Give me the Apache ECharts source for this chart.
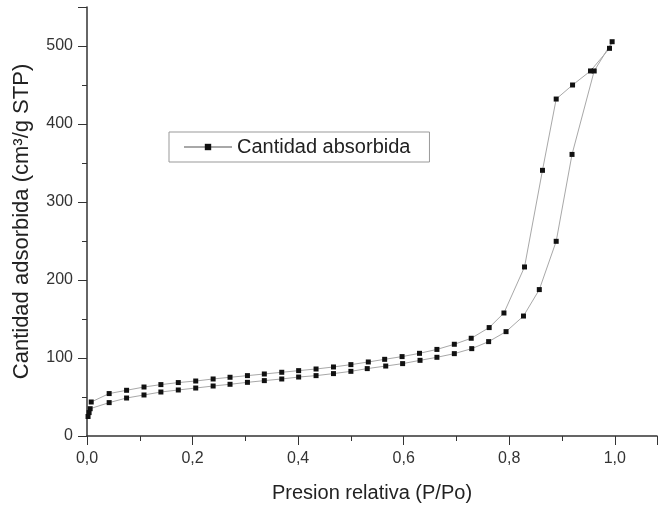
<!DOCTYPE html>
<html>
<head>
<meta charset="utf-8">
<script src="https://cdn.jsdelivr.net/npm/echarts@6/dist/echarts.min.js"></script>
<style>
  html, body { margin: 0; padding: 0; background: #fff; }
  #chart { width: 660px; height: 508px; }
</style>
</head>
<body>
<div id="chart"></div>
<script>
// Adsorption branch (increasing pressure)
const pressureAds = [0.002, 0.004, 0.006, 0.042, 0.075, 0.108, 0.140, 0.173, 0.206, 0.239, 0.271, 0.304, 0.336, 0.369, 0.401, 0.434, 0.467, 0.500, 0.531, 0.566, 0.598, 0.631, 0.663, 0.696, 0.729, 0.761, 0.794, 0.827, 0.857, 0.889, 0.919, 0.961, 0.995];
const volumeAds = [25, 30, 35, 42.8, 48.7, 52.6, 56.4, 59, 61.5, 64.1, 66.3, 68.8, 71, 73.1, 75.6, 77.4, 80, 82.9, 86.4, 89.7, 92.8, 97, 100.9, 105.6, 112, 121, 133.8, 153.8, 187.7, 249.6, 361, 468, 505.5];

// Desorption branch (decreasing pressure)
const pressureDes = [0.990, 0.954, 0.920, 0.889, 0.863, 0.829, 0.790, 0.762, 0.728, 0.696, 0.663, 0.630, 0.597, 0.564, 0.533, 0.500, 0.467, 0.434, 0.401, 0.369, 0.336, 0.304, 0.271, 0.239, 0.206, 0.173, 0.140, 0.108, 0.075, 0.042, 0.008];
const volumeDes = [497, 468, 450, 432, 340.6, 216.7, 157.7, 139, 125.3, 117.6, 111, 106, 101.8, 98.3, 94.9, 91.5, 88.5, 85.9, 83.8, 81.7, 79.5, 77.4, 75.3, 73.1, 70.5, 68.5, 65.9, 62.8, 58.6, 54.4, 43.6];

const xTicks = [0, 0.2, 0.4, 0.6, 0.8, 1.0];
const yTicks = [0, 100, 200, 300, 400, 500];

const seriesName = 'Cantidad absorbida';
const xName = 'Presion relativa (P/Po)';
const yName = 'Cantidad adsorbida (cm³/g STP)';

const points = [];
pressureAds.forEach((p, i) => points.push([p, volumeAds[i]]));
pressureDes.forEach((p, i) => points.push([p, volumeDes[i]]));

const font = 'Liberation Sans, Arial, sans-serif';

const chart = echarts.init(document.getElementById('chart'), null, { renderer: 'canvas' });

chart.setOption({
  animation: false,
  backgroundColor: '#fff',
  grid: { left: 87, right: 3, top: 7, bottom: 72, containLabel: false },
  legend: {
    left: 169,
    top: 132,
    padding: [5, 19, 5, 14],
    borderColor: '#999',
    borderWidth: 1,
    itemWidth: 48,
    itemHeight: 8,
    textStyle: { fontFamily: font, fontSize: 20, color: '#222' },
    data: [seriesName]
  },
  xAxis: {
    type: 'value',
    min: 0,
    max: 1.08,
    interval: 0.2,
    name: xName,
    nameLocation: 'middle',
    nameGap: 47,
    nameTextStyle: { fontFamily: font, fontSize: 20, color: '#222' },
    axisLine: { show: true, lineStyle: { color: '#333', width: 1.5 } },
    axisTick: { show: true, inside: false, length: 9, lineStyle: { color: '#333' } },
    minorTick: { show: true, splitNumber: 2, length: 5, lineStyle: { color: '#333' } },
    splitLine: { show: false },
    axisLabel: {
      showMaxLabel: false,
      fontFamily: font,
      fontSize: 16,
      color: '#333',
      margin: 15,
      formatter: v => xTicks.some(t => Math.abs(t - v) < 1e-6) ? v.toFixed(1).replace('.', ',') : ''
    }
  },
  yAxis: {
    type: 'value',
    min: 0,
    max: 550,
    interval: 100,
    name: yName,
    nameLocation: 'middle',
    nameGap: 54,
    nameTextStyle: { fontFamily: font, fontSize: 22, color: '#222' },
    axisLine: { show: true, lineStyle: { color: '#333', width: 1.5 } },
    axisTick: { show: true, inside: false, length: 9, lineStyle: { color: '#333' } },
    minorTick: { show: true, splitNumber: 2, length: 5, lineStyle: { color: '#333' } },
    splitLine: { show: false },
    axisLabel: {
      showMaxLabel: false,
      fontFamily: font,
      fontSize: 16,
      color: '#333',
      margin: 14,
      formatter: v => yTicks.includes(v) ? String(v) : ''
    }
  },
  series: [{
    name: seriesName,
    type: 'line',
    data: points,
    symbol: 'rect',
    symbolSize: 5,
    showAllSymbol: true,
    lineStyle: { color: '#a8a8a8', width: 1 },
    itemStyle: { color: '#111' }
  }]
});
</script>
</body>
</html>
